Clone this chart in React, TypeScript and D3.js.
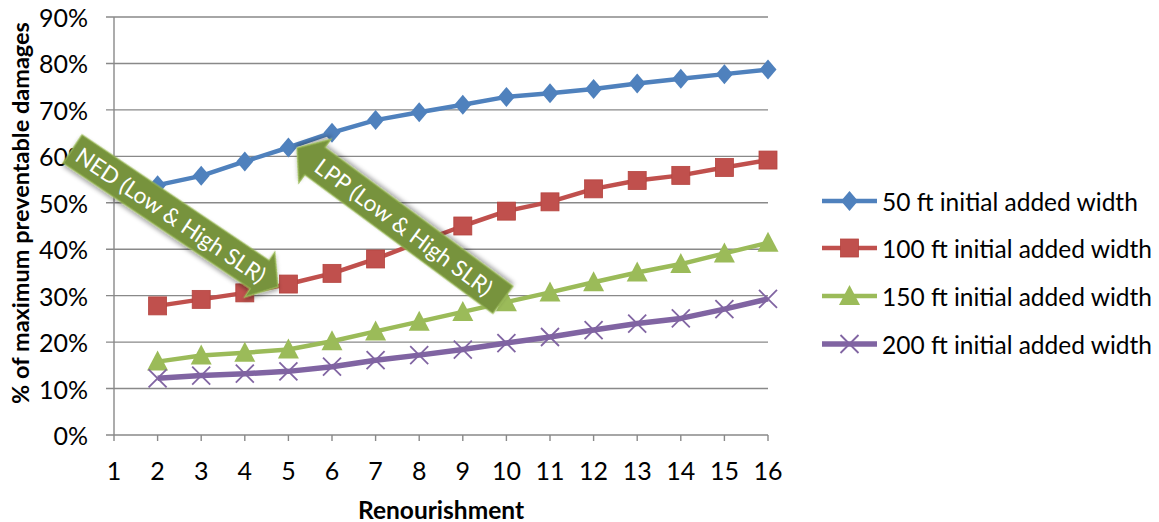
import React from "react";
import * as d3 from "d3";

// Renourishment cycles on the category axis
const renourishments = [1, 2, 3, 4, 5, 6, 7, 8, 9, 10, 11, 12, 13, 14, 15, 16];
// Cycles that carry values (cycle 1 has none)
const cycles = [2, 3, 4, 5, 6, 7, 8, 9, 10, 11, 12, 13, 14, 15, 16];

// % of maximum preventable damages, per initial added beach width
const width50 = [53.8, 55.8, 58.9, 61.9, 65.1, 67.8, 69.5, 71.1, 72.8, 73.6, 74.5, 75.7, 76.7, 77.7, 78.7];
const width100 = [27.8, 29.2, 30.6, 32.5, 34.8, 37.9, 41.5, 45.0, 48.2, 50.2, 53.0, 54.8, 55.9, 57.6, 59.2];
const width150 = [15.8, 17.1, 17.7, 18.4, 20.2, 22.3, 24.4, 26.5, 28.6, 30.7, 32.9, 35.0, 36.8, 39.1, 41.4];
const width200 = [12.2, 12.8, 13.2, 13.7, 14.7, 16.1, 17.2, 18.4, 19.8, 21.1, 22.6, 24.0, 25.1, 27.1, 29.3];

const seriesLabels = [
  "50 ft initial added width",
  "100 ft initial added width",
  "150 ft initial added width",
  "200 ft initial added width",
];

const yTicks = [0, 10, 20, 30, 40, 50, 60, 70, 80, 90];

// Callout arrows, endpoints in (cycle, percent) units
const nedTail: [number, number] = [0.05, 61.6];
const nedTip: [number, number] = [4.76, 31.9];
const lppTail: [number, number] = [9.92, 29.1];
const lppTip: [number, number] = [5.2, 61.8];

const FONT = "Lato, 'Open Sans', sans-serif";

type Shape = "diamond" | "square" | "triangle" | "cross";

const series = [
  { name: seriesLabels[0], values: width50, color: "#4F81BD", shape: "diamond" as Shape, lw: 4.5 },
  { name: seriesLabels[1], values: width100, color: "#C0504D", shape: "square" as Shape, lw: 4.5 },
  { name: seriesLabels[2], values: width150, color: "#9BBB59", shape: "triangle" as Shape, lw: 4.5 },
  { name: seriesLabels[3], values: width200, color: "#8064A2", shape: "cross" as Shape, lw: 5.5 },
];

function Marker({ shape, color, x, y }: { shape: Shape; color: string; x: number; y: number }) {
  const t = `translate(${x},${y})`;
  if (shape === "diamond") {
    return <path transform={t} d="M0,-10L8.5,0L0,10L-8.5,0Z" fill={color} />;
  }
  if (shape === "square") {
    return <rect transform={t} x={-9} y={-9} width={18} height={18} fill={color} stroke="#B5443F" strokeWidth={0.8} />;
  }
  if (shape === "triangle") {
    return <path transform={t} d="M0,-11L10.5,9L-10.5,9Z" fill={color} />;
  }
  return (
    <g transform={t} stroke={color} strokeWidth={1.8}>
      <line x1={-9} y1={-9} x2={9} y2={9} />
      <line x1={-9} y1={9} x2={9} y2={-9} />
    </g>
  );
}

function Arrow({
  tail,
  tip,
  label,
}: {
  tail: [number, number];
  tip: [number, number];
  label: string;
}) {
  const dx = tip[0] - tail[0];
  const dy = tip[1] - tail[1];
  const len = Math.hypot(dx, dy);
  const ang = (Math.atan2(dy, dx) * 180) / Math.PI;
  const sw = 34; // shaft width
  const hw = 54; // head width
  const hl = 22; // head length
  const s = len - hl;
  const pts = [
    [0, -sw / 2],
    [s, -sw / 2],
    [s, -hw / 2],
    [len, 0],
    [s, hw / 2],
    [s, sw / 2],
    [0, sw / 2],
  ]
    .map((p) => p.join(","))
    .join(" ");
  const flip = Math.abs(ang) > 90;
  const mid = s * 0.5 + 6;
  return (
    <g transform={`translate(${tail[0]},${tail[1]}) rotate(${ang})`}>
      <polygon points={pts} fill="#77933C" stroke="#9BBB59" strokeWidth={1.2} filter="url(#arrowShadow)" />
      <text
        transform={`translate(${mid},0)${flip ? " rotate(180)" : ""}`}
        textAnchor="middle"
        dominantBaseline="central"
        fill="#FFFFFF"
        fontFamily={FONT}
        fontSize={22.5}
      >
        {label}
      </text>
    </g>
  );
}

export default function App() {
  const W = 1159;
  const H = 522;
  const x = d3.scaleLinear().domain([1, 16]).range([114, 768]);
  const y = d3.scaleLinear().domain([0, 90]).range([435, 17]);

  const line = d3
    .line<number>()
    .x((_, i) => x(cycles[i]))
    .y((d) => y(d));

  const legendX0 = 822;
  const legendX1 = 877;
  const legendY = [201, 248, 296, 344];

  return (
    <svg
      width={W}
      height={H}
      style={{ position: "absolute", left: 0, top: 0, background: "#fff" }}
      fontFamily={FONT}
    >
      <defs>
        <filter id="arrowShadow" x="-20%" y="-20%" width="140%" height="140%">
          <feDropShadow dx={1.5} dy={2.5} stdDeviation={2} floodColor="#000" floodOpacity={0.35} />
        </filter>
      </defs>

      {/* gridlines and tick marks */}
      {yTicks.map((t) => (
        <line key={t} x1={106} x2={x(16)} y1={y(t)} y2={y(t)} stroke="#898989" strokeWidth={1.4} />
      ))}
      <line x1={x(1)} x2={x(1)} y1={y(90)} y2={y(0)} stroke="#898989" strokeWidth={1.4} />
      {renourishments.map((c) => (
        <line key={c} x1={x(c)} x2={x(c)} y1={y(0)} y2={y(0) + 6} stroke="#898989" strokeWidth={1.4} />
      ))}

      {/* y tick labels */}
      {yTicks.map((t) => (
        <text
          key={t}
          x={88}
          y={y(t)}
          textAnchor="end"
          dominantBaseline="central"
          fontSize={25}
          fill="#000"
        >
          {`${t}%`}
        </text>
      ))}

      {/* x tick labels */}
      {renourishments.map((c) => (
        <text key={c} x={x(c)} y={470} textAnchor="middle" dominantBaseline="central" fontSize={25} fill="#000">
          {c}
        </text>
      ))}

      {/* axis titles */}
      <text x={x(8.5)} y={509} textAnchor="middle" dominantBaseline="central" fontSize={24.5} fontWeight="bold">
        Renourishment
      </text>
      <text
        transform={`translate(20,${213}) rotate(-90)`}
        textAnchor="middle"
        dominantBaseline="central"
        fontSize={23.5}
        fontWeight="bold"
      >
        % of maximum preventable damages
      </text>

      {/* series lines and markers */}
      {series.map((s) => (
        <g key={s.name}>
          <path d={line(s.values) || ""} fill="none" stroke={s.color} strokeWidth={s.lw} strokeLinejoin="round" />
          {s.values.map((v, i) => (
            <Marker key={i} shape={s.shape} color={s.color} x={x(cycles[i])} y={y(v)} />
          ))}
        </g>
      ))}

      {/* callouts */}
      <Arrow tail={[x(nedTail[0]), y(nedTail[1])]} tip={[x(nedTip[0]), y(nedTip[1])]} label="NED (Low & High SLR)" />
      <Arrow tail={[x(lppTail[0]), y(lppTail[1])]} tip={[x(lppTip[0]), y(lppTip[1])]} label="LPP (Low & High SLR)" />

      {/* legend */}
      {series.map((s, i) => (
        <g key={s.name}>
          <line x1={legendX0} x2={legendX1} y1={legendY[i]} y2={legendY[i]} stroke={s.color} strokeWidth={s.lw} />
          <Marker shape={s.shape} color={s.color} x={(legendX0 + legendX1) / 2} y={legendY[i]} />
          <text x={882} y={legendY[i]} dominantBaseline="central" fontSize={24.5} fill="#000">
            {s.name}
          </text>
        </g>
      ))}
    </svg>
  );
}
